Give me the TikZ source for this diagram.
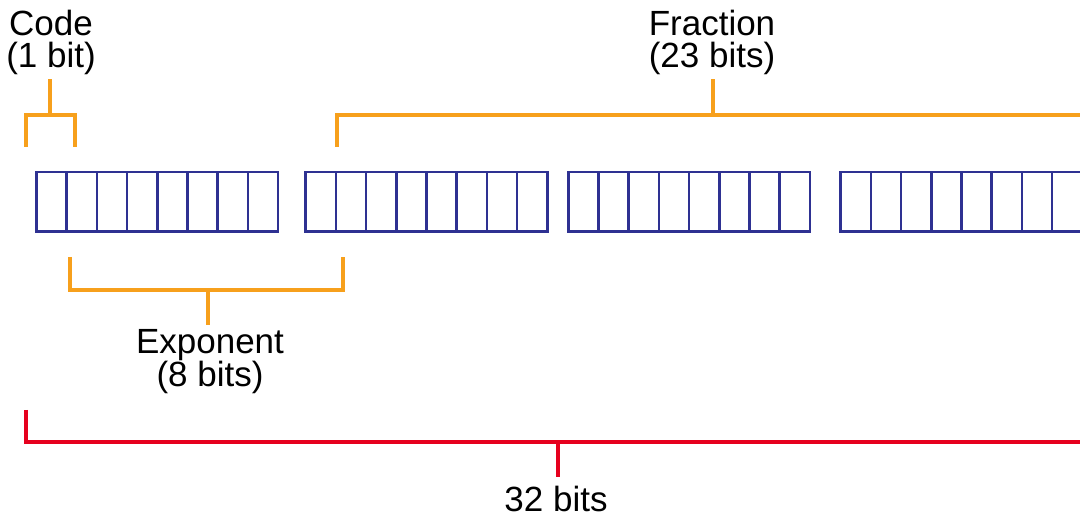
\documentclass[tikz,border=0pt]{standalone}
\usepackage{fontspec}
\setmainfont{Liberation Sans}
\definecolor{bitblue}{RGB}{46,49,146}
\definecolor{brorange}{RGB}{247,160,28}
\definecolor{brred}{RGB}{230,0,30}
\begin{document}
\begin{tikzpicture}[x=1pt,y=-1pt,
  cell/.style={draw=bitblue,line width=2.6pt,minimum width=30.2pt,minimum height=59.5pt,inner sep=0pt,outer sep=0pt},
  obr/.style={draw=brorange,line width=4pt},
  rbr/.style={draw=brred,line width=4pt},
  lbl/.style={font=\fontsize{35}{32}\selectfont,align=center,inner sep=0pt,anchor=base}]
\useasboundingbox (0,0) rectangle (1080,518);
\clip (0,0) rectangle (1080,518);
% bit cells
\foreach \b/\x in {1/36.5,2/305.7,3/568.3,4/840.7}{
  \foreach \i in {0,...,7}{
    \node[cell] (c\b-\i) at ({\x+15.1+30.2*\i},201.8) {};
  }
}
% labels (anchor = baseline of last line)
\node[lbl] (codelbl) at (51,68) {Code\\(1 bit)};
\node[lbl] (fraclbl) at (712,68) {Fraction\\(23 bits)};
\node[lbl] (explbl) at (210,387) {Exponent\\(8 bits)};
\node[lbl] (alllbl) at (556,512) {32 bits};
% code bracket
\coordinate (codeA) at (25.7,147);
\coordinate (codeB) at (74.5,147);
\coordinate (codeM) at (49.5,115);
\coordinate (codeT) at (49.5,79);
\draw[obr] (codeA) |- (codeM) -| (codeB);
\draw[obr] (codeM) -- (codeT);
% fraction bracket
\coordinate (fracA) at (337,147);
\coordinate (fracM) at (713,115);
\coordinate (fracR) at (1095,115);
\coordinate (fracT) at (713,79);
\draw[obr] (fracA) |- (fracR);
\draw[obr] (fracM) -- (fracT);
% exponent bracket
\coordinate (expA) at (70,257);
\coordinate (expB) at (342.5,257);
\coordinate (expM) at (208,290);
\coordinate (expT) at (208,325);
\draw[obr] (expA) |- (expM) -| (expB);
\draw[obr] (expM) -- (expT);
% 32-bit bracket
\coordinate (allA) at (25.5,410);
\coordinate (allM) at (557.7,441.7);
\coordinate (allR) at (1095,441.7);
\coordinate (allT) at (557.7,477);
\draw[rbr] (allA) |- (allR);
\draw[rbr] (allM) -- (allT);
\end{tikzpicture}
\end{document}
